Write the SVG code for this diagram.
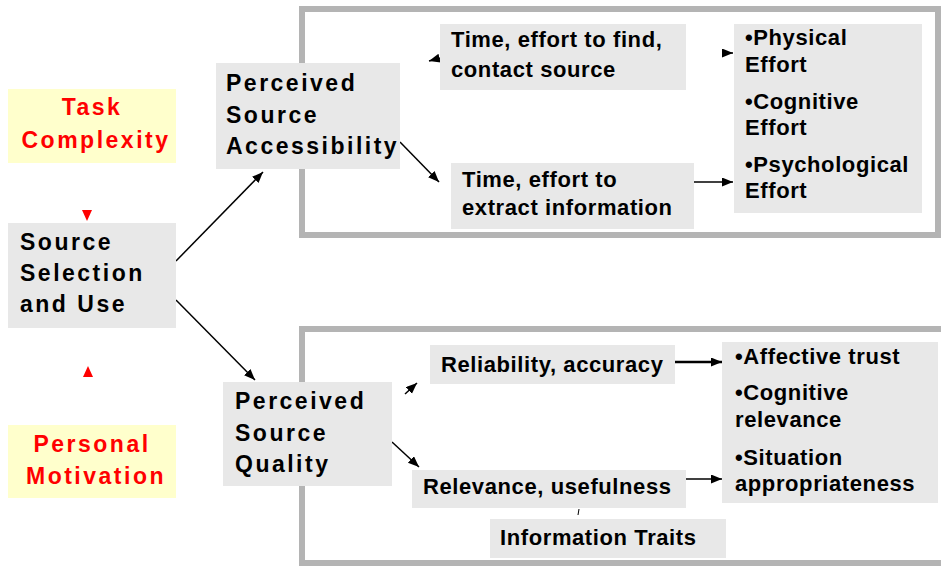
<svg xmlns="http://www.w3.org/2000/svg" width="941" height="566" viewBox="0 0 941 566">
<defs>
<style>
.box{fill:#e8e8e8}
.ybox{fill:#ffffcc}
.frame{fill:none;stroke:#b4b4b4;stroke-width:6}
.big{font-family:"Liberation Sans",Arial,sans-serif;font-size:23px;font-weight:bold;letter-spacing:2.5px;fill:#000}
.red{fill:#ff0000}
.t{font-family:"Liberation Sans",Arial,sans-serif;font-size:22px;font-weight:bold;letter-spacing:0.6px;fill:#000}
.c{fill:none;stroke:#000;stroke-width:1.5}
</style>
<marker id="ah" markerUnits="userSpaceOnUse" markerWidth="12" markerHeight="10" refX="11" refY="4.5" orient="auto">
<path d="M0,0 L11,4.5 L0,9 z" fill="#000"/>
</marker>
</defs>
<rect width="941" height="566" fill="#fff"/>
<rect class="frame" x="302" y="9" width="636" height="226"/>
<rect class="frame" x="302" y="329" width="650" height="234"/>
<g id="connectors">
<line class="c" x1="176" y1="261" x2="263" y2="172" marker-end="url(#ah)"/>
<line class="c" x1="176" y1="300" x2="255" y2="380" marker-end="url(#ah)"/>
<line class="c" x1="400" y1="142" x2="439" y2="182" marker-end="url(#ah)"/>
<line class="c" x1="440" y1="58" x2="429" y2="61" marker-end="url(#ah)"/>
<line class="c" x1="726" y1="53" x2="733" y2="53" marker-end="url(#ah)"/>
<line class="c" x1="683" y1="182" x2="733" y2="182" marker-end="url(#ah)"/>
<line class="c" x1="405" y1="394" x2="417" y2="383" marker-end="url(#ah)"/>
<line class="c" x1="392" y1="442" x2="419" y2="467" marker-end="url(#ah)"/>
<line class="c" x1="675" y1="362" x2="722" y2="362" style="stroke-width:2.5" marker-end="url(#ah)"/>
<line class="c" x1="686" y1="479" x2="722" y2="479" marker-end="url(#ah)"/>
<line class="c" x1="579" y1="509" x2="578" y2="515" style="stroke-width:1"/>
<path class="red" d="M82,210 L92,210 L87,221 z"/>
<path class="red" d="M83,377 L93,377 L88,366 z"/>
</g>
<g id="task-complexity">
<rect class="ybox" x="8" y="89" width="168" height="74"/>
<text class="big red" x="92" y="115" text-anchor="middle">Task</text>
<text class="big red" x="96" y="148" text-anchor="middle">Complexity</text>
</g>
<g id="source-selection">
<rect class="box" x="8" y="223" width="168" height="105"/>
<text class="big" x="20" y="250">Source</text>
<text class="big" x="20" y="281">Selection</text>
<text class="big" x="20" y="312">and Use</text>
</g>
<g id="personal-motivation">
<rect class="ybox" x="8" y="425" width="168" height="73"/>
<text class="big red" x="92" y="452" text-anchor="middle">Personal</text>
<text class="big red" x="96" y="484" text-anchor="middle">Motivation</text>
</g>
<g id="accessibility">
<rect class="box" x="216" y="63" width="184" height="106"/>
<text class="big" x="226" y="91">Perceived</text>
<text class="big" x="226" y="123">Source</text>
<text class="big" x="226" y="154">Accessibility</text>
</g>
<g id="find-contact">
<rect class="box" x="440" y="24" width="246" height="66"/>
<text class="t" x="451" y="47">Time, effort to find,</text>
<text class="t" x="451" y="77">contact source</text>
</g>
<g id="extract">
<rect class="box" x="451" y="163" width="243" height="66"/>
<text class="t" x="462" y="187">Time, effort to</text>
<text class="t" x="462" y="215">extract information</text>
</g>
<g id="effort">
<rect class="box" x="734" y="24" width="188" height="189"/>
<text class="t" x="745" y="45">•Physical</text>
<text class="t" x="745" y="72">Effort</text>
<text class="t" x="745" y="109">•Cognitive</text>
<text class="t" x="745" y="135">Effort</text>
<text class="t" x="745" y="172">•Psychological</text>
<text class="t" x="745" y="198">Effort</text>
</g>
<g id="quality">
<rect class="box" x="223" y="382" width="169" height="104"/>
<text class="big" x="235" y="409">Perceived</text>
<text class="big" x="235" y="441">Source</text>
<text class="big" x="235" y="472">Quality</text>
</g>
<g id="reliability">
<rect class="box" x="430" y="345" width="245" height="39"/>
<text class="t" x="441" y="372">Reliability, accuracy</text>
</g>
<g id="relevance">
<rect class="box" x="412" y="470" width="274" height="38"/>
<text class="t" x="423" y="494">Relevance, usefulness</text>
</g>
<g id="information-traits">
<rect class="box" x="490" y="519" width="236" height="39"/>
<text class="t" x="500" y="545">Information Traits</text>
</g>
<g id="trust">
<rect class="box" x="722" y="342" width="216" height="161"/>
<text class="t" x="735" y="364">•Affective trust</text>
<text class="t" x="735" y="400">•Cognitive</text>
<text class="t" x="735" y="427">relevance</text>
<text class="t" x="735" y="465">•Situation</text>
<text class="t" x="735" y="491">appropriateness</text>
</g>
</svg>
